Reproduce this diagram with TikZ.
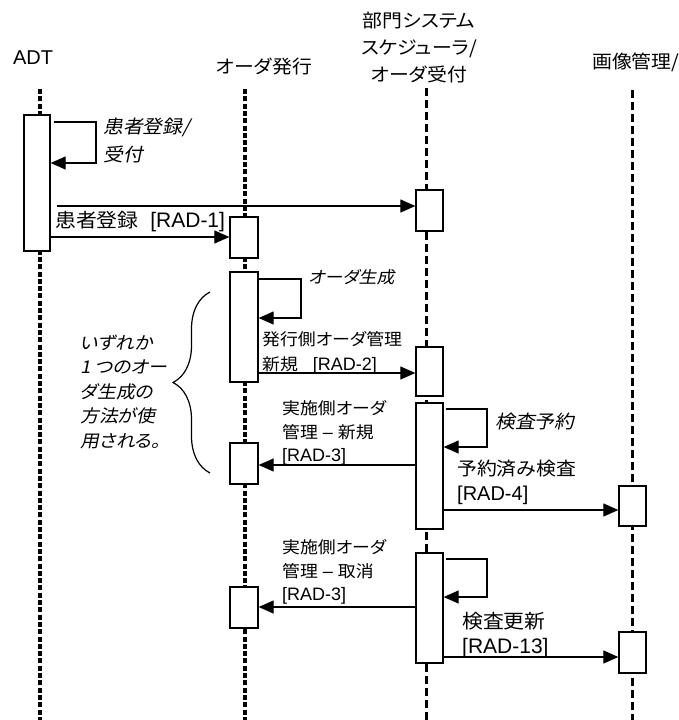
\documentclass[tikz,border=0pt]{standalone}
\usepackage{fontspec}
\usepackage{graphicx}
\setmainfont{Liberation Sans}
\newfontfamily\jp{Noto Sans CJK JP}[Scale=0.92,FakeStretch=1.08,RawFeature=+palt]
\newfontfamily\jpit{Noto Sans CJK JP}[Scale=0.92,FakeStretch=1.08,FakeSlant=0.2,RawFeature=+palt]
\usetikzlibrary{arrows.meta,decorations.pathreplacing}
\tikzset{
  lifeA/.style={line width=3.4pt, dash pattern=on 5pt off 2.3pt},
  lifeB/.style={line width=3pt, dash pattern=on 8pt off 4pt},
  act/.style={draw, line width=1.3pt, fill=white, minimum width=27pt, inner sep=0pt},
  msg/.style={line width=1.2pt, -{Triangle[length=15pt,width=13pt]}},
  lbl/.style={inner sep=0pt, anchor=west, align=left},
  hdr/.style={inner sep=0pt, font=\fontsize{20}{27}\selectfont}
}
\begin{document}
\begin{tikzpicture}[x=1pt,y=-1pt]
\useasboundingbox (0,0) rectangle (678,720);
% headers
\node[hdr] (hADT) at (33,58) {ADT};
\node[hdr] (hOrd) at (264,66) {\jp オーダ発行};
\node[hdr, align=center, font=\fontsize{20}{27}\selectfont\jp] (hDep) at (419,48) {部門システム\\スケジューラ/\\オーダ受付};
\node[hdr, anchor=west, font=\fontsize{20}{27}\selectfont\jp] (hImg) at (592,62) {画像管理/};
% lifelines
\coordinate (lA0) at (40,89);  \coordinate (lA1) at (40,720);
\coordinate (lO0) at (245,89); \coordinate (lO1) at (245,720);
\coordinate (lB0) at (426,88); \coordinate (lB1) at (426,720);
\coordinate (lI0) at (632,90); \coordinate (lI1) at (632,720);
\draw[lifeA] (lA0) -- (lA1);
\draw[lifeA] (lO0) -- (lO1);
\draw[lifeB] (lB0) -- (lB1);
\draw[lifeB] (lI0) -- (lI1);
% activation boxes
\node[act, minimum width=26pt, minimum height=136pt] (A1) at (37,183) {};
\node[act, minimum width=28pt, minimum height=41pt] (O1) at (244,237.5) {};
\node[act, minimum width=28pt, minimum height=110pt] (O2) at (244,327) {};
\node[act, minimum width=28pt, minimum height=41pt] (O3) at (244,463.5) {};
\node[act, minimum width=28pt, minimum height=41pt] (O4) at (244,607.5) {};
\node[act, minimum height=41pt] (B1) at (429.5,210.5) {};
\node[act, minimum height=49pt] (B2) at (429.5,371.5) {};
\node[act, minimum height=126pt] (B3) at (429.5,466) {};
\node[act, minimum height=110pt] (B4) at (429.5,608) {};
\node[act, minimum height=40pt] (I1) at (632.5,506) {};
\node[act, minimum height=41pt] (I2) at (632.5,652.5) {};
% self loops
\draw[msg] ([xshift=3pt]A1.east |- 0,122) -| (96,163) -- (A1.east |- 0,163);
\draw[msg] (O2.east |- 0,279) -| (301,318) -- (O2.east |- 0,318);
\draw[msg] ([xshift=2pt]B3.east |- 0,409) -| (487,447) -- (B3.east |- 0,447);
\draw[msg] ([xshift=2pt]B4.east |- 0,559) -| (487,597) -- (B4.east |- 0,597);
\node[lbl, font=\fontsize{20}{28}\selectfont\jpit] (tL1) at (103,141) {患者登録/\\受付};
\node[lbl, font=\fontsize{18}{24}\selectfont\jpit] (tL2) at (308,277) {オーダ生成};
\node[lbl, font=\fontsize{20}{24}\selectfont\jpit] (tL3) at (495,422) {検査予約};
% messages
\coordinate (m1s) at (57,206);
\draw[msg] (m1s) -- (B1.west |- 0,206);
\draw[msg] (A1.east |- 0,237) -- (O1.west |- 0,237);
\node[lbl, font=\fontsize{21}{25}\selectfont] (tM2) at (55,222) {{\jp 患者登録}\ \ [RAD-1]};
\draw[msg] (O2.east |- 0,373) -- (B2.west |- 0,373);
\node[lbl, font=\fontsize{18}{25}\selectfont] (tM3) at (262,352.5) {{\jp 発行側オーダ管理}\\{\jp 新規}\ \ \ [RAD-2]};
\draw[msg] (B3.west |- 0,465) -- (O3.east |- 0,465);
\node[lbl, font=\fontsize{18}{23.5}\selectfont] (tM4) at (282,433) {{\jp 実施側オーダ}\\{\jp 管理} – {\jp 新規}\\{[RAD-3]}};
\draw[msg] (B3.east |- 0,510) -- (I1.west |- 0,510);
\node[lbl, font=\fontsize{20}{25}\selectfont] (tM5) at (457,482.5) {{\jp 予約済み検査}\\{[RAD-4]}};
\draw[msg] (B4.west |- 0,607) -- (O4.east |- 0,607);
\node[lbl, font=\fontsize{18}{23.5}\selectfont] (tM6) at (282,572) {{\jp 実施側オーダ}\\{\jp 管理} – {\jp 取消}\\{[RAD-3]}};
\draw[msg] (B4.east |- 0,657) -- (I2.west |- 0,657);
\node[lbl, font=\fontsize{21}{25}\selectfont] (tM7) at (462,635) {{\jp 検査更新}\\{[RAD-13]}};
% brace and note
\coordinate (br0) at (210,473);
\coordinate (br1) at (210,292);
\draw[line width=1.2pt, decorate, decoration={brace, amplitude=37pt}] (br0) -- (br1);
\node[lbl, font=\fontsize{19}{24.5}\selectfont\jpit] (tNote) at (80,392) {いずれか\\1 つのオー\\ダ生成の\\方法が使\\用される。};
\end{tikzpicture}
\end{document}
